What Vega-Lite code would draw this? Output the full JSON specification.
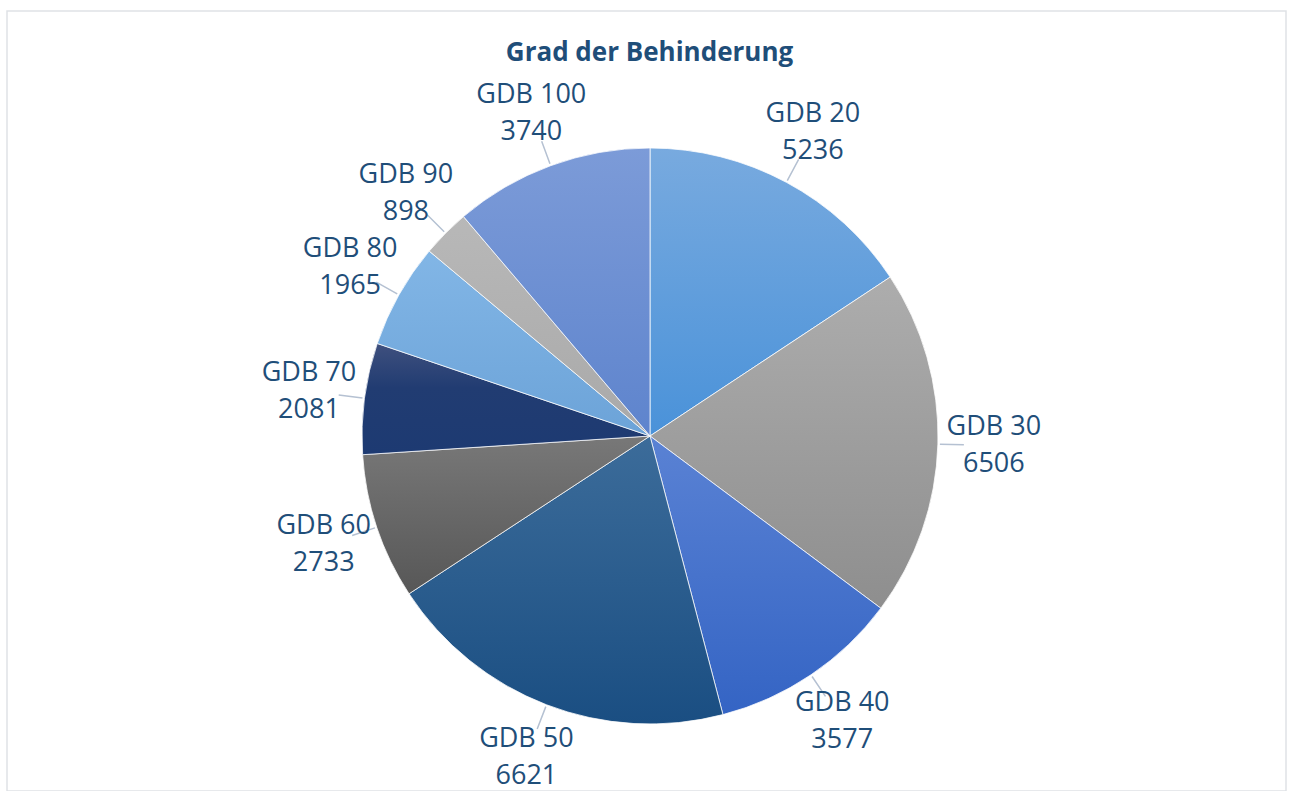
{
  "$schema": "https://vega.github.io/schema/vega-lite/v6.json",
  "width": 1279,
  "height": 780,
  "autosize": {"type": "none"},
  "padding": {"left": 7, "top": 11, "right": 7, "bottom": 0},
  "background": "white",
  "view": {"stroke": "#dfe2e6", "strokeWidth": 1.5, "fill": "white"},
  "title": {
    "text": "Grad der Behinderung",
    "anchor": "middle",
    "frame": "group",
    "orient": "top",
    "offset": -76,
    "baseline": "alphabetic",
    "font": "Open Sans",
    "fontSize": 26,
    "fontWeight": "bold",
    "color": "#1f4e79",
    "dx": 3
  },
  "data": {
    "values": [
      {"grad": "GDB 20", "nr": 20, "anzahl": 5236},
      {"grad": "GDB 30", "nr": 30, "anzahl": 6506},
      {"grad": "GDB 40", "nr": 40, "anzahl": 3577},
      {"grad": "GDB 50", "nr": 50, "anzahl": 6621},
      {"grad": "GDB 60", "nr": 60, "anzahl": 2733},
      {"grad": "GDB 70", "nr": 70, "anzahl": 2081},
      {"grad": "GDB 80", "nr": 80, "anzahl": 1965},
      {"grad": "GDB 90", "nr": 90, "anzahl": 898},
      {"grad": "GDB 100", "nr": 100, "anzahl": 3740}
    ]
  },
  "encoding": {
    "theta": {"field": "anzahl", "type": "quantitative", "stack": true},
    "order": {"field": "nr", "type": "quantitative"}
  },
  "layer": [
    {
      "mark": {"type": "arc", "radius": 288, "stroke": "white", "strokeWidth": 0.75, "xOffset": 3.5, "yOffset": 35},
      "encoding": {
        "fill": {
          "condition": [
            {"test": "datum.nr === 20", "value": {"gradient": "linear", "x1": 0, "y1": 0, "x2": 0, "y2": 1, "stops": [{"offset": 0, "color": "#78aadf"}, {"offset": 1, "color": "#4a92d9"}]}},
            {"test": "datum.nr === 30", "value": {"gradient": "linear", "x1": 0, "y1": 0, "x2": 0, "y2": 1, "stops": [{"offset": 0, "color": "#adadad"}, {"offset": 1, "color": "#8e8e8e"}]}},
            {"test": "datum.nr === 40", "value": {"gradient": "linear", "x1": 0, "y1": 0, "x2": 0, "y2": 1, "stops": [{"offset": 0, "color": "#5a82d4"}, {"offset": 1, "color": "#3464c4"}]}},
            {"test": "datum.nr === 50", "value": {"gradient": "linear", "x1": 0, "y1": 0, "x2": 0, "y2": 1, "stops": [{"offset": 0, "color": "#3c6c9a"}, {"offset": 1, "color": "#1a4e82"}]}},
            {"test": "datum.nr === 60", "value": {"gradient": "linear", "x1": 0, "y1": 0, "x2": 0, "y2": 1, "stops": [{"offset": 0, "color": "#787878"}, {"offset": 1, "color": "#575757"}]}},
            {"test": "datum.nr === 70", "value": {"gradient": "linear", "x1": 0, "y1": 0, "x2": 0, "y2": 1, "stops": [{"offset": 0, "color": "#3f507e"}, {"offset": 0.4, "color": "#213c72"}, {"offset": 1, "color": "#1d3a72"}]}},
            {"test": "datum.nr === 80", "value": {"gradient": "linear", "x1": 0, "y1": 0, "x2": 0, "y2": 1, "stops": [{"offset": 0, "color": "#82b6e6"}, {"offset": 1, "color": "#6ca3d8"}]}},
            {"test": "datum.nr === 90", "value": {"gradient": "linear", "x1": 0, "y1": 0, "x2": 0, "y2": 1, "stops": [{"offset": 0, "color": "#b8b8b8"}, {"offset": 1, "color": "#a9a9a9"}]}}
          ],
          "value": {"gradient": "linear", "x1": 0, "y1": 0, "x2": 0, "y2": 1, "stops": [{"offset": 0, "color": "#7c9bd8"}, {"offset": 1, "color": "#5e84cd"}]}
        }
      }
    },
    {
      "mark": {"type": "arc", "radius": 314, "innerRadius": 290, "padAngle": 3, "fill": "transparent", "stroke": "#b5c1d2", "strokeWidth": 1.5, "xOffset": 3.5, "yOffset": 35}
    },
    {
      "mark": {"type": "text", "radius": 344, "dy": -18.5, "xOffset": 3.5, "yOffset": 35, "font": "Open Sans", "fontSize": 27, "color": "#1f4e79", "align": "center", "baseline": "middle"},
      "encoding": {"text": {"field": "grad", "type": "nominal"}}
    },
    {
      "mark": {"type": "text", "radius": 344, "dy": 18.5, "xOffset": 3.5, "yOffset": 35, "font": "Open Sans", "fontSize": 27, "color": "#1f4e79", "align": "center", "baseline": "middle"},
      "encoding": {"text": {"field": "anzahl", "type": "quantitative", "format": "d"}}
    }
  ]
}
